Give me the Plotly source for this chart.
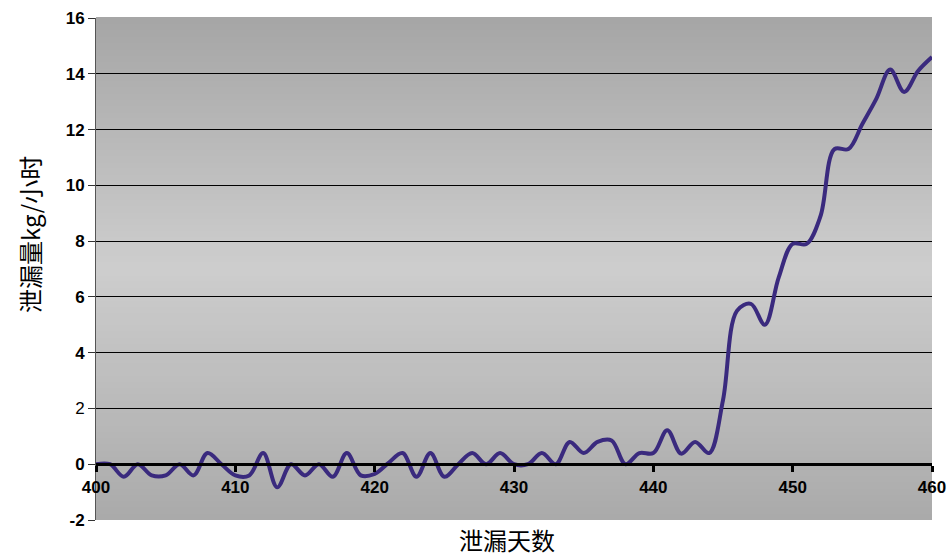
import plotly.graph_objects as go

days = [400, 401, 402, 403, 404, 405, 406, 407, 408, 409,
        410, 411, 412, 413, 414, 415, 416, 417, 418, 419,
        420, 421, 422, 423, 424, 425, 426, 427, 428, 429,
        430, 431, 432, 433, 434, 435, 436, 437, 438, 439,
        440, 441, 442, 443, 444, 445, 446, 447, 448, 449,
        450, 451, 452, 453, 454, 455, 456, 457, 458, 459, 460]
leak = [0.0, 0.0, -0.45, 0.0, -0.4, -0.4, 0.0, -0.4, 0.4, 0.0,
        -0.4, -0.4, 0.4, -0.83, 0.0, -0.4, 0.0, -0.45, 0.4, -0.4,
        -0.35, 0.05, 0.4, -0.45, 0.4, -0.45, 0.0, 0.4, 0.0, 0.4,
        0.0, 0.0, 0.4, 0.0, 0.8, 0.4, 0.8, 0.85, 0.0, 0.4,
        0.4, 1.22, 0.38, 0.8, 0.4, 2.3, 5.5, 5.75, 5.0, 6.7,
        7.9, 7.9, 8.9, 11.3, 11.3, 12.2, 13.1, 14.15, 13.35, 14.1, 14.6]

y_ticks = [-2, 0, 2, 4, 6, 8, 10, 12, 14, 16]
y_ticktext = ["<b>-2</b>", "<b>0</b>", "2", "<b>4</b>", "<b>6</b>", "<b>8</b>",
              "<b>10</b>", "<b>12</b>", "<b>14</b>", "<b>16</b>"]
x_ticks = [400, 410, 420, 430, 440, 450, 460]

fig = go.Figure()
fig.add_trace(go.Scatter(
    x=days, y=leak, mode="lines",
    line=dict(color="#3a2a7e", width=4, shape="spline", smoothing=1.0),
    hoverinfo="skip", showlegend=False,
))

# gradient background bands
shapes = []
n = 80
def shade(f):
    mid = 0.5
    if f >= mid:
        t = (f - mid) / (1 - mid)
        return 205 + (166 - 205) * t
    t = (mid - f) / mid
    return 205 + (170 - 205) * t
for i in range(n):
    y0 = i / n
    y1 = (i + 1) / n
    c = int(round(shade((y0 + y1) / 2)))
    shapes.append(dict(type="rect", xref="paper", yref="paper",
                       x0=0, x1=1, y0=y0, y1=y1 + 0.002,
                       fillcolor=f"rgb({c},{c},{c})", line=dict(width=0),
                       layer="below"))

tickfont = dict(size=17, family="Liberation Sans, Arial", color="black")

fig.update_layout(
    width=947, height=559,
    margin=dict(l=96, r=15, t=18, b=39, autoexpand=False),
    paper_bgcolor="white",
    plot_bgcolor="rgba(0,0,0,0)",
    shapes=shapes,
    font=dict(family="Liberation Sans, Arial, sans-serif", color="black"),
    xaxis=dict(
        range=[400, 460], tickvals=x_ticks,
        ticktext=[f"<b>{v}</b>" for v in x_ticks],
        tickfont=tickfont, automargin=False,
        showgrid=False, zeroline=False,
        showline=True, linecolor="black", linewidth=3,
        ticks="outside", ticklen=6, tickwidth=3, tickcolor="black",
        anchor="free", position=2 / 18,
    ),
    yaxis=dict(
        range=[-2, 16], tickvals=y_ticks, ticktext=y_ticktext,
        tickfont=tickfont, automargin=False,
        showgrid=True, gridcolor="black", gridwidth=1,
        zeroline=False,
        showline=True, linecolor="#555555", linewidth=1,
        ticks="outside", ticklen=7, tickcolor="#333333",
    ),
    annotations=[
        dict(text="泄漏天数", xref="paper", yref="paper",
             x=(507 - 96) / 836, y=(520 - 539) / 502, xanchor="center", yanchor="middle",
             showarrow=False,
             font=dict(size=24, family="Noto Sans CJK SC")),
        dict(text="泄漏量kg/小时", xref="paper", yref="paper",
             x=(30 - 96) / 836, y=(520 - 235) / 502, xanchor="center", yanchor="middle",
             textangle=-90, showarrow=False,
             font=dict(size=24, family="Noto Sans CJK SC")),
    ],
)

fig.write_html("out.html")
